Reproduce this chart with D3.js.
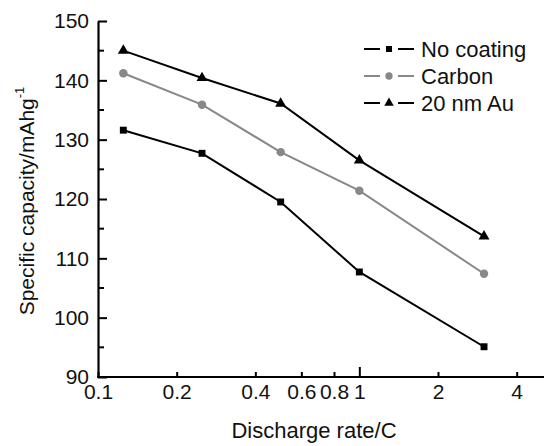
<!DOCTYPE html>
<html>
<head>
<meta charset="utf-8">
<script src="https://cdn.jsdelivr.net/npm/d3@7"></script>
<style>
  body { margin: 0; background: #fff; }
  svg { font-family: "Liberation Sans", Arial, sans-serif; }
</style>
</head>
<body>
<div id="chart"></div>
<script>
// discharge rates (C) and capacities (mAh/g)
var rates = [0.125, 0.25, 0.5, 1, 3];
var noCoating = [131.6, 127.7, 119.5, 107.7, 95.1];
var carbon = [141.2, 135.9, 127.9, 121.4, 107.4];
var au20 = [145.0, 140.4, 136.1, 126.5, 113.7];

var seriesNames = ['No coating', 'Carbon', '20 nm Au'];
var xTickValues = [0.1, 0.2, 0.4, 0.6, 0.8, 1, 2, 4];
var yTickValues = [90, 100, 110, 120, 130, 140, 150];
var yMinorValues = [95, 105, 115, 125, 135, 145];

var width = 544, height = 446;
var margin = { top: 21, right: 2, bottom: 69, left: 98 };
var w = width - margin.left - margin.right,
  h = height - margin.top - margin.bottom;

var svg = d3.select('#chart')
  .append('svg')
  .attr('width', width)
  .attr('height', height);

var g = svg.append('g')
  .attr('transform', 'translate(' + margin.left + ',' + margin.top + ')');

var x = d3.scaleLog()
  .domain([0.1, 5])
  .range([0, w]);
var y = d3.scaleLinear()
  .domain([90, 150])
  .range([h, 0]);

var series = [
  { name: seriesNames[0], values: noCoating, color: '#000', marker: 'square' },
  { name: seriesNames[1], values: carbon, color: '#888', marker: 'circle' },
  { name: seriesNames[2], values: au20, color: '#000', marker: 'triangle' }
];

function markerPath(type, scale) {
  var k = scale || 1;
  if (type === 'square') return d3.symbol().type(d3.symbolSquare).size(48 * k)();
  if (type === 'circle') return d3.symbol().type(d3.symbolCircle).size(56 * k)();
  return d3.symbol().type(d3.symbolTriangle).size(52 * k)();
}

// x axis (ticks point inward)
var xAxis = g.append('g')
  .attr('transform', 'translate(0,' + h + ')')
  .call(d3.axisBottom(x)
    .tickValues(xTickValues)
    .tickFormat(d3.format('~g'))
    .tickSizeInner(-5)
    .tickSizeOuter(0)
    .tickPadding(7));
xAxis.selectAll('.tick line')
  .attr('y2', d => d === 1 ? -10 : -5);

// y axis
var yAxis = g.append('g')
  .call(d3.axisLeft(y)
    .tickValues(yTickValues)
    .tickSizeInner(-9)
    .tickSizeOuter(0)
    .tickPadding(9));
g.append('g')
  .selectAll('line')
  .data(yMinorValues)
  .enter()
  .append('line')
  .attr('x1', 0)
  .attr('x2', 6)
  .attr('y1', d => y(d))
  .attr('y2', d => y(d))
  .attr('stroke', '#000')
  .attr('stroke-width', 2);

[xAxis, yAxis].forEach(function (a) {
  a.select('.domain').attr('stroke-width', 2.2);
  a.selectAll('.tick line').attr('stroke-width', 2);
  a.selectAll('text')
    .attr('font-size', 21)
    .attr('fill', '#111')
    .style('font-family', '"Liberation Sans", Arial, sans-serif');
});
xAxis.select('.domain').attr('d', 'M-1,0H' + (w + 2));

// lines and markers
var line = d3.line()
  .x((d, i) => x(rates[i]))
  .y(d => y(d));

series.forEach(function (s) {
  g.append('path')
    .datum(s.values)
    .attr('fill', 'none')
    .attr('stroke', s.color)
    .attr('stroke-width', 2)
    .attr('d', line);

  g.selectAll('.m-' + s.marker)
    .data(s.values)
    .enter()
    .append('path')
    .attr('class', 'm-' + s.marker)
    .attr('transform', (d, i) => 'translate(' + x(rates[i]) + ',' + y(d) + ')')
    .attr('d', markerPath(s.marker))
    .attr('fill', s.color);
});

// legend
var legend = svg.append('g')
  .attr('transform', 'translate(364,49)');
series.forEach(function (s, i) {
  var row = legend.append('g')
    .attr('transform', 'translate(0,' + (i * 27) + ')');
  row.append('line')
    .attr('x1', 0).attr('x2', 50)
    .attr('stroke', s.color)
    .attr('stroke-width', 2);
  row.append('rect')
    .attr('x', 16).attr('y', -5)
    .attr('width', 18).attr('height', 10)
    .attr('fill', '#fff');
  row.append('path')
    .attr('transform', 'translate(25,0)')
    .attr('d', markerPath(s.marker, 0.75))
    .attr('fill', s.color);
  row.append('text')
    .attr('x', 57)
    .attr('dy', '0.36em')
    .attr('font-size', 22)
    .attr('fill', '#111')
    .text(s.name);
});

// axis titles
svg.append('text')
  .attr('x', 314)
  .attr('y', 438)
  .attr('text-anchor', 'middle')
  .attr('font-size', 22)
  .attr('fill', '#111')
  .text('Discharge rate/C');

var yTitle = svg.append('text')
  .attr('transform', 'translate(34,' + 201 + ') rotate(-90)')
  .attr('text-anchor', 'middle')
  .attr('font-size', 21)
  .attr('fill', '#111');
yTitle.append('tspan').text('Specific capacity/mAhg');
yTitle.append('tspan')
  .attr('font-size', 13)
  .attr('dy', '-0.8em')
  .text('-1');
</script>
</body>
</html>
